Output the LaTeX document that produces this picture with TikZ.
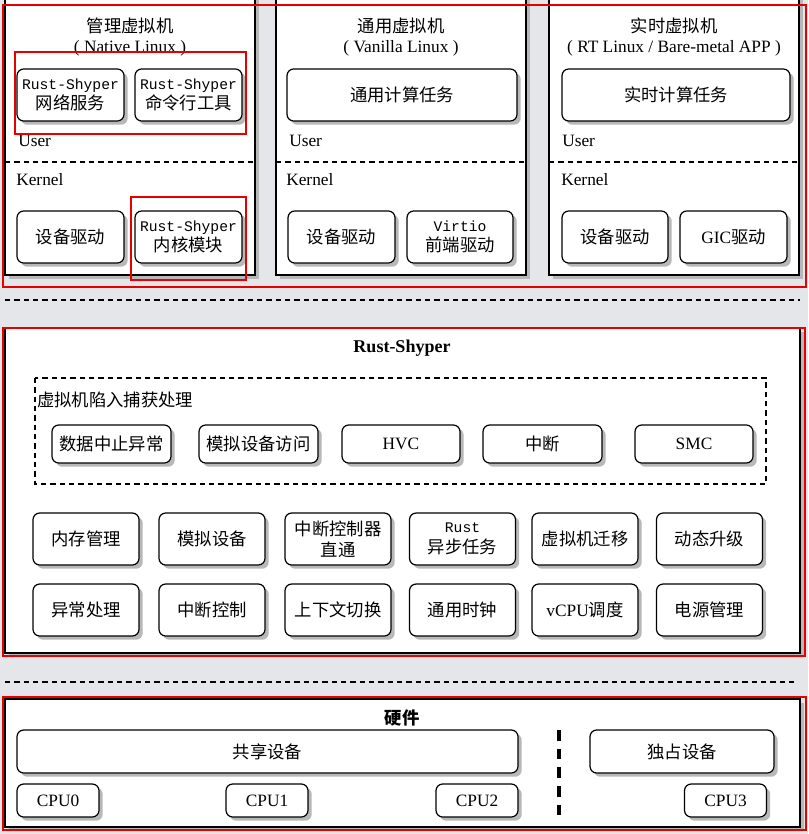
\documentclass[tikz,border=0pt]{standalone}
\usepackage{fontspec}
\setmainfont{Liberation Serif}
\setmonofont{Liberation Mono}
\newfontfamily\cjk{Noto Sans CJK SC}
\usetikzlibrary{shadows,positioning}
\definecolor{paper}{RGB}{229,230,233}
\definecolor{hired}{RGB}{232,0,0}
\newcommand{\zhtxt}[1]{{\cjk\fontsize{13}{15.5}\selectfont #1}}
\newcommand{\monotxt}[1]{{\ttfamily\fontsize{11}{13}\selectfont #1}}
\tikzset{
  shade box/.style={drop shadow={shadow xshift=2.8pt, shadow yshift=-2.8pt, fill=black!28, opacity=1}},
  mod/.style 2 args={draw=black, line width=0.9pt, rounded corners=5pt, fill=white,
    shade box, align=center, inner sep=0pt,
    minimum width={#1*0.75pt}, minimum height={#2*0.75pt},
    font=\fontsize{13}{15.5}\selectfont},
  frame/.style={draw=black, line width=0.9pt, fill=white, shade box},
  hilite/.style={draw=hired, line width=2pt},
  sep/.style={line width=0.8pt, dash pattern=on 4pt off 3pt},
  lbl/.style={font=\fontsize{13}{15.5}\selectfont, inner sep=0pt},
}
\begin{document}
\begin{tikzpicture}[x=0.75pt, y=-0.75pt]
  \path[use as bounding box, fill=paper] (0,0) rectangle (808,834);

  % virtual machines
  \draw[frame] (5,-8) rectangle (255,275);
  \draw[frame] (276,-8) rectangle (526,275);
  \draw[frame] (549,-8) rectangle (799,275);
  \foreach \xa/\xb in {5/255, 276/526, 549/799}
    \draw[sep] (\xa,162) -- (\xb,162);

  \node[lbl] (t1) at (130,26) {\zhtxt{管理虚拟机}};
  \node[lbl] (t1b) at (130,48) {( Native Linux )};
  \node[lbl] (t2) at (401,26) {\zhtxt{通用虚拟机}};
  \node[lbl] (t2b) at (401,48) {( Vanilla Linux )};
  \node[lbl] (t3) at (674,26) {\zhtxt{实时虚拟机}};
  \node[lbl] (t3b) at (674,48) {( RT Linux / Bare-metal APP )};

  \node[lbl, anchor=west] (u1) at (18,141) {User};
  \node[lbl, anchor=west] (u2) at (289,141) {User};
  \node[lbl, anchor=west] (u3) at (562,141) {User};
  \node[lbl, anchor=west] (k1) at (16,180) {Kernel};
  \node[lbl, anchor=west] (k2) at (286,180) {Kernel};
  \node[lbl, anchor=west] (k3) at (561,180) {Kernel};

  \node[mod={107}{52}] (net) at (70.5,95) {\monotxt{Rust-Shyper}\\\zhtxt{网络服务}};
  \node[mod={107}{52}] (cli) at (188.5,95) {\monotxt{Rust-Shyper}\\\zhtxt{命令行工具}};
  \node[mod={107}{52}] (drv1) at (70.5,237) {\zhtxt{设备驱动}};
  \node[mod={107}{52}] (kmod) at (188.5,237) {\monotxt{Rust-Shyper}\\\zhtxt{内核模块}};

  \node[mod={230}{52}] (gtask) at (402,95) {\zhtxt{通用计算任务}};
  \node[mod={107}{52}] (drv2) at (341.5,237) {\zhtxt{设备驱动}};
  \node[mod={106}{52}] (virtio) at (460,237) {\monotxt{Virtio}\\\zhtxt{前端驱动}};

  \node[mod={228}{52}] (rtask) at (676,95) {\zhtxt{实时计算任务}};
  \node[mod={106}{52}] (drv3) at (615,237) {\zhtxt{设备驱动}};
  \node[mod={107}{52}] (gic) at (733.5,237) {GIC\zhtxt{驱动}};

  \draw[hilite] (15,52) rectangle (246,134);
  \draw[hilite] (131,197) rectangle (246,280);
  \draw[hilite] (3,5) rectangle (806,287);

  \draw[sep] (5,300) -- (800,300);

  % hypervisor
  \draw[frame] (5,328) rectangle (800,653);
  \node[lbl, font=\fontsize{13.5}{16}\selectfont\bfseries] (hv) at (402,348) {Rust-Shyper};
  \draw[sep] (35,378) rectangle (766,484);
  \node[lbl, anchor=west] (trap) at (37,400) {\zhtxt{虚拟机陷入捕获处理}};
  \node[mod={119}{38}] (abort) at (111.5,444) {\zhtxt{数据中止异常}};
  \node[mod={119}{38}] (mmio) at (258.5,444) {\zhtxt{模拟设备访问}};
  \node[mod={118}{38}] (hvc) at (401,444) {HVC};
  \node[mod={119}{38}] (irq) at (542.5,444) {\zhtxt{中断}};
  \node[mod={118}{38}] (smc) at (694,444) {SMC};

  \node[mod={106}{52}] (mem) at (86,539) {\zhtxt{内存管理}};
  \node[mod={106}{52}] (emu) at (212,539) {\zhtxt{模拟设备}};
  \node[mod={106}{52}] (gicpt) at (338,539) {\zhtxt{中断控制器}\\\zhtxt{直通}};
  \node[mod={106}{52}] (async) at (462.5,539) {\monotxt{Rust}\\\zhtxt{异步任务}};
  \node[mod={106}{52}] (migr) at (585,539) {\zhtxt{虚拟机迁移}};
  \node[mod={106}{52}] (upd) at (709.5,539) {\zhtxt{动态升级}};
  \node[mod={106}{52}] (exc) at (86,610) {\zhtxt{异常处理}};
  \node[mod={106}{52}] (intc) at (212,610) {\zhtxt{中断控制}};
  \node[mod={106}{52}] (ctx) at (338,610) {\zhtxt{上下文切换}};
  \node[mod={106}{52}] (timer) at (462.5,610) {\zhtxt{通用时钟}};
  \node[mod={106}{52}] (sched) at (585,610) {vCPU\zhtxt{调度}};
  \node[mod={106}{52}] (pwr) at (709.5,610) {\zhtxt{电源管理}};

  \draw[hilite] (3,328) rectangle (805,656);

  \draw[sep] (5,682) -- (795,682);

  % hardware
  \draw[frame] (5,699) rectangle (800,827);
  \node[lbl, font=\bfseries] (hw) at (402,718) {\zhtxt{硬件}};
  \node[mod={501}{43}] (shared) at (267.5,751.5) {\zhtxt{共享设备}};
  \node[mod={184}{43}] (excl) at (682,751.5) {\zhtxt{独占设备}};
  \node[mod={82}{33}] (cpu0) at (58,800.5) {CPU0};
  \node[mod={82}{33}] (cpu1) at (267,800.5) {CPU1};
  \node[mod={82}{33}] (cpu2) at (477,800.5) {CPU2};
  \node[mod={82}{33}] (cpu3) at (725.5,800.5) {CPU3};
  \draw[line width=2.8pt, dash pattern=on 8pt off 6pt] (559,730) -- (559,815);

  \draw[hilite] (3,697) rectangle (806,830);
\end{tikzpicture}
\end{document}
